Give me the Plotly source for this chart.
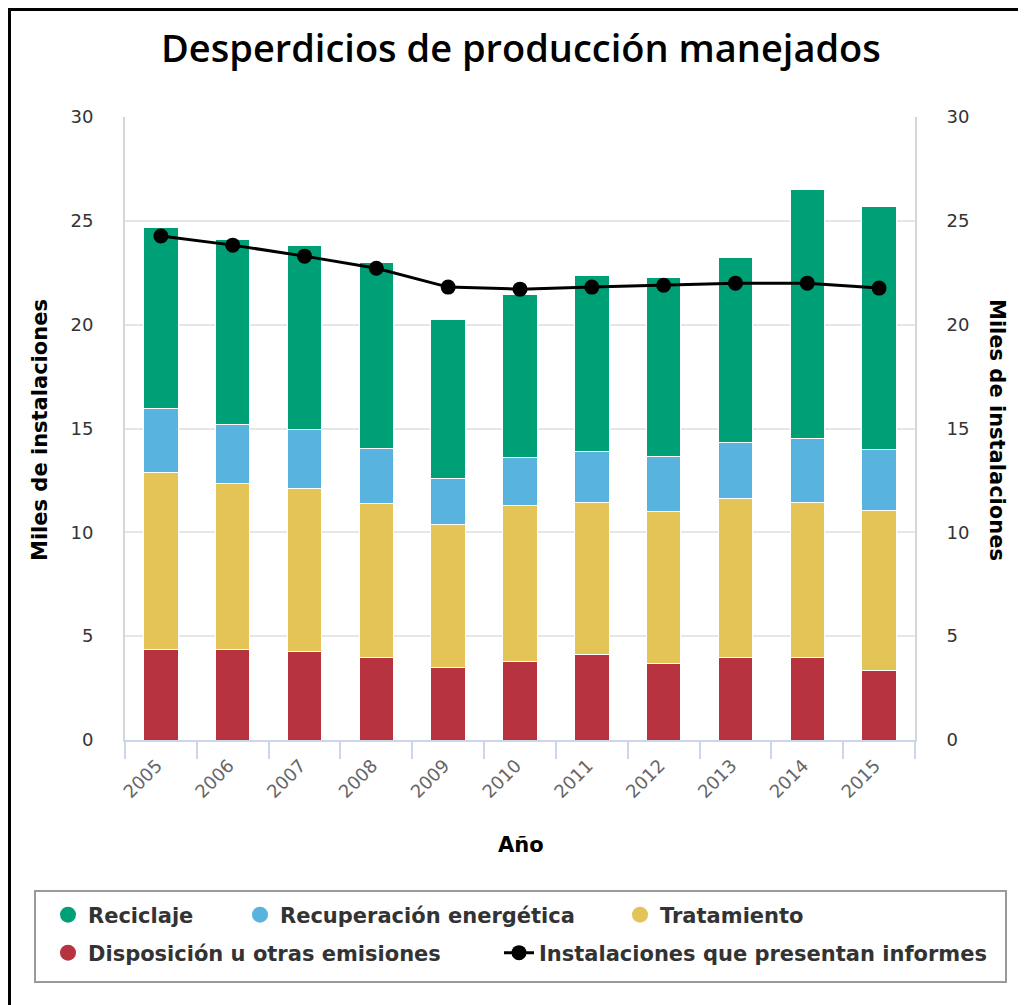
import plotly.graph_objects as go

years = ["2005", "2006", "2007", "2008", "2009", "2010", "2011", "2012", "2013", "2014", "2015"]
disposicion = [4.38, 4.38, 4.24, 3.95, 3.47, 3.80, 4.14, 3.66, 3.95, 3.95, 3.37]
tratamiento = [8.48, 7.95, 7.89, 7.46, 6.93, 7.47, 7.32, 7.32, 7.70, 7.51, 7.70]
recuperacion = [3.12, 2.88, 2.80, 2.65, 2.21, 2.31, 2.41, 2.65, 2.70, 3.08, 2.91]
reciclaje = [8.72, 8.91, 8.90, 8.91, 7.66, 7.85, 8.52, 8.66, 8.90, 11.99, 11.73]
instalaciones = [24.27, 23.83, 23.30, 22.72, 21.81, 21.71, 21.81, 21.90, 22.00, 22.00, 21.76]
y_ticks = [0, 5, 10, 15, 20, 25, 30]

C_GREEN = "#00A077"
C_BLUE = "#58B3DF"
C_YELLOW = "#E5C457"
C_RED = "#B7333F"

OFF = 8  # page body margin
W, H = 1026 - OFF, 1005 - OFF
PLOT_L, PLOT_R, PLOT_T, PLOT_B = 125, 915, 117, 740  # in reference (window) pixels
L = PLOT_L - OFF
T = PLOT_T - OFF
R = W - (PLOT_R - OFF)
B = H - (PLOT_B - OFF)
PW, PH = W - L - R, H - T - B


def px(xp):
    return (xp - OFF - L) / PW


def py(yp):
    return (H - B - (yp - OFF)) / PH


fig = go.Figure()
bar_line = dict(color="white", width=1)
for name, vals, col in [
    ("Disposición u otras emisiones", disposicion, C_RED),
    ("Tratamiento", tratamiento, C_YELLOW),
    ("Recuperación energética", recuperacion, C_BLUE),
    ("Reciclaje", reciclaje, C_GREEN),
]:
    fig.add_trace(go.Bar(x=years, y=vals, name=name, marker=dict(color=col, line=bar_line),
                         showlegend=False))

fig.add_trace(go.Scatter(x=years, y=instalaciones, yaxis="y2", mode="lines+markers",
                         name="Instalaciones que presentan informes",
                         line=dict(color="black", width=3),
                         marker=dict(color="black", size=15), showlegend=False))

legend_font = dict(family="DejaVu Sans", size=21, color="#333333", weight="bold")
# (name, colour, legend origin x in window px, row centre y, mode)
entries = [
    ("Reciclaje", C_GREEN, 48, 915, "markers"),
    ("Recuperación energética", C_BLUE, 240, 915, "markers"),
    ("Tratamiento", C_YELLOW, 620, 915, "markers"),
    ("Disposición u otras emisiones", C_RED, 48, 953, "markers"),
    ("Instalaciones que presentan informes", "black", 499, 953, "lines+markers"),
]
layout_legends = {}
for i, (name, col, ox, cy, mode) in enumerate(entries):
    key = "legend" if i == 0 else f"legend{i + 1}"
    fig.add_trace(go.Scatter(x=[None], y=[None], mode=mode, name=name, legend=key,
                             marker=dict(color=col, size=22 if mode == "markers" else 15),
                             line=dict(color=col, width=3), showlegend=True))
    layout_legends[key] = dict(x=px(ox), y=py(cy), xanchor="left", yanchor="middle",
                               orientation="h", font=legend_font, bgcolor="rgba(0,0,0,0)",
                               borderwidth=0, itemwidth=30)

fig.update_layout(
    width=W, height=H,
    margin=dict(l=L, r=R, t=T, b=B, autoexpand=False),
    barmode="stack", bargap=0.52,
    plot_bgcolor="white", paper_bgcolor="white",
    xaxis=dict(type="category", range=[-0.5, len(years) - 0.5], tickangle=-45,
               tickfont=dict(family="DejaVu Sans", size=18, color="#666666"),
               ticks="outside", tickson="boundaries", ticklen=17, tickcolor="#ccd6eb", tickwidth=2,
               ticklabelshift=-4, ticklabelstandoff=6,
               showline=True, linecolor="#ccd6eb", linewidth=2, showgrid=False),
    yaxis=dict(range=[0, 30], tickvals=y_ticks, showgrid=True, gridcolor="#e6e6e6", gridwidth=2,
               zeroline=False, showline=True, linecolor="#d6d6d6", linewidth=2,
               tickfont=dict(family="DejaVu Sans", size=18, color="#333333"), ticklabelstandoff=26),
    yaxis2=dict(range=[0, 30], tickvals=y_ticks, overlaying="y", side="right", showgrid=False,
                zeroline=False, showline=True, linecolor="#d6d6d6", linewidth=2,
                tickfont=dict(family="DejaVu Sans", size=18, color="#333333"), ticklabelstandoff=26),
    **layout_legends,
)

title_font = dict(family="Open Sans", size=38, color="black", weight=600)
axis_title_font = dict(family="DejaVu Sans", size=21, color="black", weight="bold")
fig.add_annotation(text="Desperdicios de producción manejados", x=px(521), y=py(47), xref="paper", yref="paper",
                   xanchor="center", yanchor="middle", showarrow=False, font=title_font)
fig.add_annotation(text="Miles de instalaciones", x=px(40), y=py(430), xref="paper", yref="paper",
                   xanchor="center", yanchor="middle", showarrow=False, textangle=-90, font=axis_title_font)
fig.add_annotation(text="Miles de instalaciones", x=px(997), y=py(430), xref="paper", yref="paper",
                   xanchor="center", yanchor="middle", showarrow=False, textangle=90, font=axis_title_font)
fig.add_annotation(text="Año", x=px(521), y=py(845), xref="paper", yref="paper",
                   xanchor="center", yanchor="middle", showarrow=False, font=axis_title_font)

# legend box
fig.add_shape(type="rect", xref="paper", yref="paper", x0=px(35), x1=px(1006), y0=py(982), y1=py(891),
              line=dict(color="#9a9a9a", width=2), fillcolor="rgba(0,0,0,0)")
# outer frame (left and top edges)
fig.add_shape(type="line", xref="paper", yref="paper", x0=px(9.5), x1=px(9.5), y0=py(8), y1=py(1010),
              line=dict(color="black", width=3))
fig.add_shape(type="line", xref="paper", yref="paper", x0=px(8), x1=px(1030), y0=py(9.5), y1=py(9.5),
              line=dict(color="black", width=3))

fig.write_html("out.html")
